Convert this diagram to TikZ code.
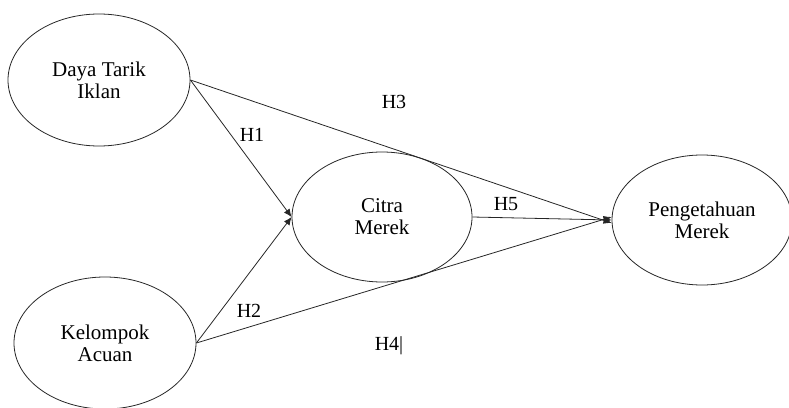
\documentclass[tikz,border=0pt]{standalone}
\usepackage{fontspec}
\setmainfont{Liberation Serif}
\usetikzlibrary{shapes.geometric,arrows.meta}
\begin{document}
\begin{tikzpicture}[x=1pt,y=-1pt,
  construct/.style={ellipse,draw=black!85,line width=0.8pt,inner sep=0pt,
    minimum width=182pt,minimum height=132pt,align=center,
    font=\fontsize{21}{22}\selectfont},
  path/.style={draw=black!85,line width=0.8pt,-{Latex[length=8pt,width=7pt]}},
  hyp/.style={font=\fontsize{20}{20}\selectfont,inner sep=1pt}]
\useasboundingbox (0,0) rectangle (789,407);
\node[construct] (daya) at (99,80) {Daya Tarik\\Iklan};
\node[construct] (kel) at (105,343) {Kelompok\\Acuan};
\node[construct,minimum width=180pt,minimum height=130pt] (citra) at (382,217) {Citra\\Merek};
\node[construct,minimum width=180pt,minimum height=130pt] (peng) at (702,220) {Pengetahuan\\Merek};
\coordinate (cin) at (citra.west);
\coordinate (p3) at ([yshift=-3pt]peng.west);
\coordinate (p5) at (peng.west);
\coordinate (p4) at ([yshift=3pt]peng.west);
\draw[path] (daya.east) -- (cin);
\draw[path] (daya.east) -- (p3);
\draw[path] (kel.east) -- (cin);
\draw[path] (kel.east) -- (p4);
\draw[path] (citra.east) -- (p5);
\node[hyp] (h1) at (252,135) {H1};
\node[hyp] (h3) at (394,102) {H3};
\node[hyp] (h2) at (249,311) {H2};
\node[hyp] (h4) at (389,346) {H4|};
\node[hyp] (h5) at (506,204) {H5};
\end{tikzpicture}
\end{document}
